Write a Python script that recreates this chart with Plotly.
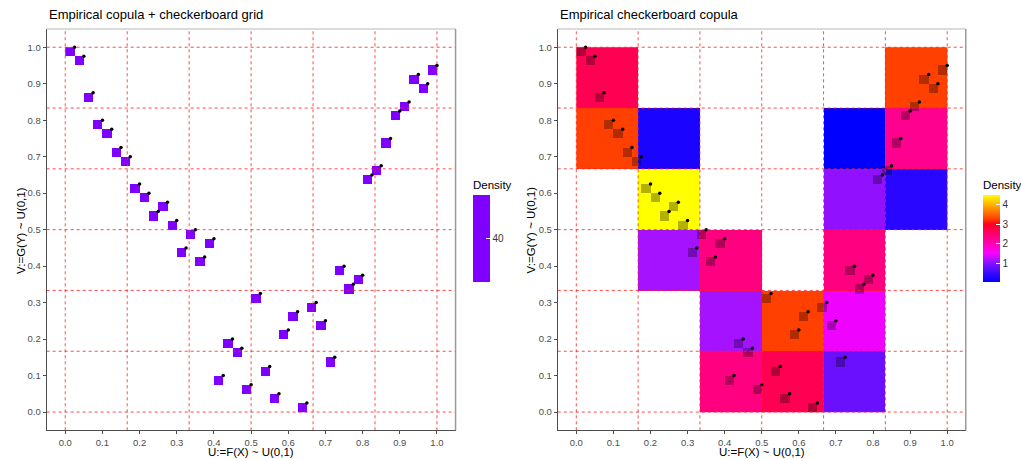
import numpy as np
import plotly.graph_objects as go

# ---- data (ranks, n = 40) ----
u_rank = list(range(1, 41))
v_rank = [40, 39, 35, 32, 31, 29, 28, 25, 24, 22, 23, 21, 18, 20, 17, 19, 4, 8, 7, 3,
          13, 5, 2, 9, 11, 1, 12, 10, 6, 16, 14, 15, 26, 27, 30, 33, 34, 37, 36, 38]
n_grid = 6
tick_vals = [0.0, 0.1, 0.2, 0.3, 0.4, 0.5, 0.6, 0.7, 0.8, 0.9, 1.0]
left_title = "Empirical copula + checkerboard grid"
right_title = "Empirical checkerboard copula"
x_label = "U:=F(X) ~ U(0,1)"
y_label = "V:=G(Y) ~ U(0,1)"

n = len(u_rank)
u = np.array(u_rank) / n
v = np.array(v_rank) / n

# empirical copula tiles (40x40 grid, value = n)
emp = np.full((n, n), np.nan)
for k, j in zip(u_rank, v_rank):
    emp[j - 1, k - 1] = n
centers = (np.arange(1, n + 1) - 0.5) / n

# checkerboard density: mass of each tile spread over the 6x6 cells
cuts = np.arange(n_grid + 1) / n_grid
dens = np.zeros((n_grid, n_grid))
for k, j in zip(u_rank, v_rank):
    x0, x1, y0, y1 = (k - 1) / n, k / n, (j - 1) / n, j / n
    for a in range(n_grid):
        ox = max(0, min(x1, cuts[a + 1]) - max(x0, cuts[a])) * n
        for b in range(n_grid):
            oy = max(0, min(y1, cuts[b + 1]) - max(y0, cuts[b])) * n
            dens[b, a] += ox * oy / n * n_grid * n_grid
dens_plot = np.where(dens > 1e-9, dens, np.nan)
cell_centers = (np.arange(n_grid) + 0.5) / n_grid
zmin, zmax = np.nanmin(dens_plot), np.nanmax(dens_plot)

W, H = 1021, 459
FONT = "Liberation Sans, Arial, sans-serif"
purple = "#7F00FF"
cscale = [[0, "#0000FF"], [0.182, "#6A10FF"], [0.25, "#A512FF"], [1 / 3, "#FF00FF"],
          [2 / 3, "#FF0020"], [0.727, "#FF4000"], [1, "#FFFF00"]]

cb_common = dict(x=None, xanchor="left", y=1 - 229.5 / H, yanchor="middle",
                 lenmode="pixels", len=104, thickness=17, thicknessmode="pixels",
                 outlinewidth=0, xpad=0, ypad=0, ticks="inside", tickcolor="white", ticklen=4,
                 tickfont=dict(size=10, color="#333", family=FONT),
                 title=dict(text="Density", side="top",
                            font=dict(size=11.5, color="#000", family=FONT)))

fig = go.Figure()

# left panel
cb_left = dict(cb_common, x=473 / W, tickvals=[n], ticktext=[str(n)])
fig.add_trace(go.Heatmap(x=centers, y=centers, z=emp, xaxis="x", yaxis="y",
                         colorscale=[[0, purple], [1, purple]], zmin=n - 1, zmax=n + 1,
                         hoverinfo="skip", colorbar=cb_left))
fig.add_trace(go.Scatter(x=u, y=v, mode="markers", xaxis="x", yaxis="y",
                         marker=dict(color="black", size=3.5), hoverinfo="skip", showlegend=False))

# right panel
cb_right = dict(cb_common, x=983 / W, tickvals=[1, 2, 3, 4])
fig.add_trace(go.Heatmap(x=cell_centers, y=cell_centers, z=dens_plot, xaxis="x2", yaxis="y2",
                         colorscale=cscale, zmin=zmin, zmax=zmax, hoverinfo="skip",
                         colorbar=cb_right))
fig.add_trace(go.Heatmap(x=centers, y=centers, z=emp, xaxis="x2", yaxis="y2",
                         colorscale=[[0, "black"], [1, "black"]], zmin=n - 1, zmax=n + 1,
                         opacity=0.3, showscale=False, hoverinfo="skip"))
fig.add_trace(go.Scatter(x=u, y=v, mode="markers", xaxis="x2", yaxis="y2",
                         marker=dict(color="black", size=3.5), hoverinfo="skip", showlegend=False))

ydom = [1 - 430.3 / H, 1 - 29 / H]
ax_common = dict(range=[-0.05, 1.05], showgrid=False, zeroline=False, showline=True,
                 linecolor="#4d4d4d", linewidth=1, ticks="outside", ticklen=3,
                 tickcolor="#4d4d4d", tickvals=tick_vals, tickformat=".1f",
                 tickfont=dict(size=9.5, color="#4d4d4d", family=FONT))
fig.update_layout(
    width=W, height=H, margin=dict(l=0, r=0, t=0, b=0),
    paper_bgcolor="white", plot_bgcolor="white", showlegend=False,
    xaxis=dict(domain=[46.7 / W, 456 / W], anchor="y", **ax_common),
    yaxis=dict(domain=ydom, anchor="x", **ax_common),
    xaxis2=dict(domain=[558.3 / W, 966.7 / W], anchor="y2", **ax_common),
    yaxis2=dict(domain=ydom, anchor="x2", **ax_common),
)

shapes = []
for xr, yr in (("x", "y"), ("x2", "y2")):
    for c in cuts:
        shapes.append(dict(type="line", xref=xr, yref=yr, x0=-0.05, x1=1.05, y0=c, y1=c,
                           line=dict(color="rgba(255,30,30,0.8)", width=1, dash="3px,3px"),
                           layer="above"))
        shapes.append(dict(type="line", xref=xr, yref=yr, x0=c, x1=c, y0=-0.05, y1=1.05,
                           line=dict(color="rgba(255,30,30,0.8)", width=1, dash="3px,3px"),
                           layer="above"))
    # top/right panel border
    shapes.append(dict(type="line", xref=xr + " domain", yref=yr + " domain", x0=0, x1=1, y0=1, y1=1,
                       line=dict(color="#cfcfcf", width=1.5)))
    shapes.append(dict(type="line", xref=xr + " domain", yref=yr + " domain", x0=1, x1=1, y0=0, y1=1,
                       line=dict(color="#9a9a9a", width=1.5)))
fig.update_layout(shapes=shapes)

ann = []
for x0, x1, title in ((46.7, 456, left_title), (558.3, 966.7, right_title)):
    ann.append(dict(text=title, x=x0 / W, y=1 - 15 / H, xref="paper", yref="paper",
                    xanchor="left", yanchor="middle", showarrow=False,
                    font=dict(size=13, color="black", family=FONT)))
    ann.append(dict(text=x_label, x=(x0 + x1) / 2 / W, y=1 - 452 / H, xref="paper", yref="paper",
                    xanchor="center", yanchor="middle", showarrow=False,
                    font=dict(size=11.5, color="black", family=FONT)))
for xc in (21, 532):
    ann.append(dict(text=y_label, x=xc / W, y=1 - 230 / H, xref="paper", yref="paper",
                    xanchor="center", yanchor="middle", showarrow=False, textangle=-90,
                    font=dict(size=11.5, color="black", family=FONT)))
fig.update_layout(annotations=ann)

fig.write_html("out.html")
